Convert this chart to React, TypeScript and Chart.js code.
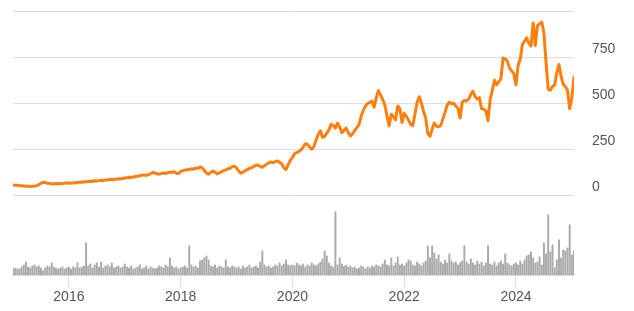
import React, { useEffect, useRef } from "react";
import { Chart, registerables } from "chart.js";

Chart.register(...registerables);

// Biweekly samples starting Jan 2015
const startYear = 2015;
const pointsPerYear = 26;
const yearTicks = [2016, 2018, 2020, 2022, 2024];
const priceTicks = [0, 250, 500, 750, 1000];

const closePrices = [
  // 2015
  56, 55, 55, 53, 52, 51, 50, 49, 48, 49, 50, 52, 58, 66, 71, 69, 66, 65, 63, 62, 64, 63, 65, 64, 66, 67,
  // 2016
  68, 66, 67, 70, 69, 72, 71, 74, 73, 76, 75, 77, 79, 78, 80, 82, 81, 84, 83, 86, 87, 85, 88, 90, 89, 92,
  // 2017
  94, 96, 98, 97, 100, 102, 104, 106, 109, 111, 108, 112, 118, 124, 121, 117, 115, 118, 121, 119, 123, 126, 124, 128, 120, 118,
  // 2018
  130, 134, 137, 139, 140, 144, 142, 148, 146, 154, 150, 135, 120, 115, 124, 132, 126, 117, 122, 128, 134, 138, 143, 147, 155, 158,
  // 2019
  150, 132, 120, 126, 134, 140, 146, 150, 157, 163, 165, 158, 152, 160, 170, 176, 181, 178, 183, 187, 180, 172, 150, 140, 165, 190,
  // 2020
  205, 225, 232, 238, 246, 262, 280, 276, 262, 250, 265, 300, 330, 350, 315, 320, 338, 355, 385, 380, 365, 392, 370, 340, 352, 365,
  // 2021
  340, 322, 335, 352, 368, 385, 430, 462, 485, 498, 505, 512, 478, 530, 568, 545, 520, 490, 430, 378, 440, 425, 410, 485, 470, 395,
  // 2022
  445, 430, 408, 385, 378, 440, 505, 535, 500, 455, 420, 335, 320, 360, 392, 375, 372, 378, 415, 450, 490, 505, 496, 500, 485, 472,
  // 2023
  420, 505, 515, 512, 522, 548, 565, 535, 522, 530, 470, 468, 458, 405, 520, 570, 625, 600, 615, 632, 745, 740, 728, 690, 675, 660,
  // 2024
  600, 705, 740, 820, 835, 855, 825, 810, 935, 812, 920, 930, 940, 880, 720, 575, 570, 590, 600, 665, 710, 645, 602, 590, 570, 470,
  // 2025
  530, 640,
];

const volumes = [
  // 2015
  6, 7, 6, 6, 8, 10, 13, 8, 7, 9, 10, 8, 9, 7, 4, 7, 9, 8, 12, 8, 7, 6, 7, 8, 6, 7,
  // 2016
  8, 6, 8, 7, 12, 7, 8, 9, 32, 9, 11, 7, 10, 12, 8, 13, 7, 9, 10, 8, 12, 7, 8, 9, 7, 8,
  // 2017
  11, 8, 7, 9, 6, 7, 8, 10, 6, 7, 9, 6, 8, 7, 6, 7, 9, 8, 7, 10, 8, 17, 9, 7, 8, 6,
  // 2018
  7, 8, 9, 7, 29, 10, 8, 9, 7, 14, 15, 17, 19, 15, 9, 8, 10, 7, 9, 8, 7, 15, 8, 7, 9, 8,
  // 2019
  7, 8, 6, 9, 7, 8, 10, 7, 8, 9, 7, 13, 24, 10, 8, 9, 7, 8, 10, 9, 12, 9, 11, 15, 10, 9,
  // 2020
  10, 9, 12, 10, 9, 11, 8, 10, 9, 12, 10, 9, 11, 13, 16, 24, 19, 12, 9, 8, 63, 10, 17, 11, 9, 10,
  // 2021
  8, 9, 7, 8, 6, 7, 9, 8, 6, 8, 7, 9, 8, 10, 9, 8, 11, 15, 10, 9, 17, 9, 12, 18, 10, 11,
  // 2022
  9, 12, 15, 14, 10, 9, 13, 11, 9, 12, 14, 29, 17, 29, 22, 16, 20, 13, 11, 15, 12, 21, 14, 12, 13, 10,
  // 2023
  12, 14, 29, 13, 11, 16, 12, 10, 14, 11, 13, 9, 12, 29, 11, 10, 13, 9, 12, 14, 11, 21, 12, 10, 9, 11,
  // 2024
  12, 10, 14, 11, 15, 19, 20, 23, 17, 12, 13, 18, 10, 32, 21, 60, 23, 30, 7, 15, 35, 17, 25, 24, 27, 50,
  // 2025
  20, 24,
];

const FONT = { family: "'Liberation Sans', Arial, sans-serif", size: 14 };
const TEXT_COLOR = "#555555";
const GRID_COLOR = "#dddddd";

export default function App() {
  const ref = useRef<HTMLCanvasElement>(null);

  useEffect(() => {
    document.body.style.margin = "0";
    const dates = closePrices.map((_, i) => startYear + i / pointsPerYear);
    const chart = new Chart(ref.current as HTMLCanvasElement, {
      type: "bar",
      data: {
        datasets: [
          {
            type: "line",
            data: dates.map((x, i) => ({ x, y: closePrices[i] })),
            borderColor: "#ff7f0e",
            backgroundColor: "#ff7f0e",
            borderWidth: 3,
            pointRadius: 0,
            tension: 0,
            borderJoinStyle: "round",
            borderCapStyle: "round",
            yAxisID: "y",
            order: 0,
          } as any,
          {
            type: "bar",
            data: dates.map((x, i) => ({ x, y: volumes[i] })),
            backgroundColor: "#aaaaaa",
            barThickness: 1.3,
            yAxisID: "yVol",
            order: 1,
          } as any,
        ],
      },
      options: {
        animation: false,
        responsive: false,
        layout: { padding: { left: 13, top: 11, right: 0, bottom: 0 } },
        plugins: { legend: { display: false }, tooltip: { enabled: false } },
        scales: {
          x: {
            type: "linear",
            offset: false,
            min: startYear,
            max: dates[dates.length - 1],
            afterBuildTicks: (s: any) => {
              s.ticks = yearTicks.map((v) => ({ value: v }));
            },
            afterFit: (s: any) => {
              s.height = 36;
              s.paddingLeft = 0;
              s.paddingRight = 0;
            },
            ticks: {
              callback: (v: any) => String(v),
              font: FONT,
              color: TEXT_COLOR,
              padding: 1,
              maxRotation: 0,
              autoSkip: false,
            },
            grid: {
              offset: false,
              drawOnChartArea: false,
              drawTicks: true,
              tickLength: 13,
              color: GRID_COLOR,
              lineWidth: 1,
            },
            border: { display: true, color: GRID_COLOR, width: 2 },
          } as any,
          y: {
            position: "right",
            min: -432,
            max: 1000,
            afterBuildTicks: (s: any) => {
              s.ticks = priceTicks.map((v) => ({ value: v }));
            },
            afterFit: (s: any) => {
              s.width = 60;
              s.paddingTop = 0;
              s.paddingBottom = 0;
            },
            ticks: {
              callback: (v: any) => (v === 1000 ? "" : String(v)),
              labelOffset: -8,
              padding: 18,
              font: FONT,
              color: TEXT_COLOR,
            },
            grid: { drawTicks: false, color: GRID_COLOR, lineWidth: 1 },
            border: { display: false },
          } as any,
          yVol: {
            display: false,
            min: 0,
            max: 263,
          } as any,
        },
      },
    });
    return () => chart.destroy();
  }, []);

  return <canvas ref={ref} width={634} height={311} style={{ display: "block" }} />;
}
